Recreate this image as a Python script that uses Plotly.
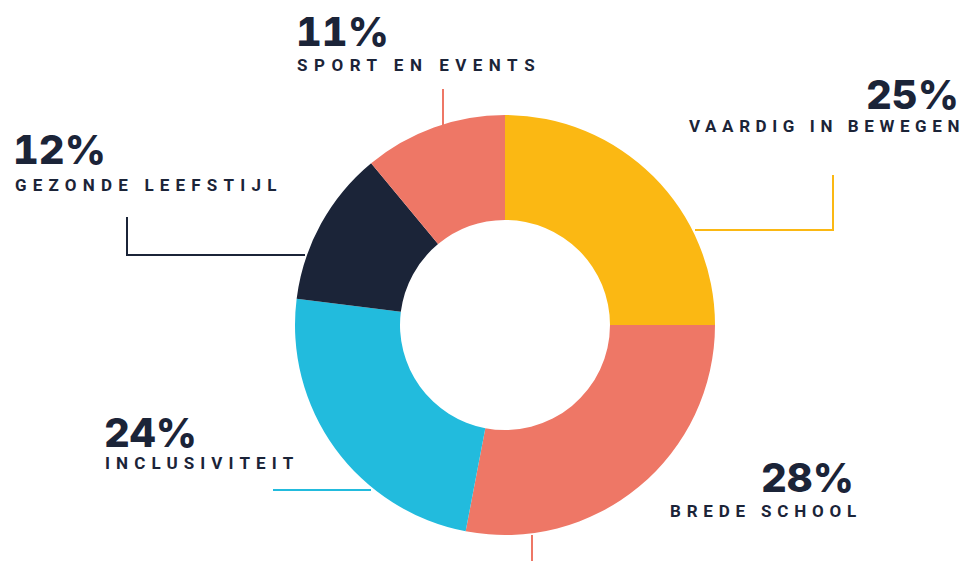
import plotly.graph_objects as go

categories = ["VAARDIG IN BEWEGEN", "BREDE SCHOOL", "INCLUSIVITEIT", "GEZONDE LEEFSTIJL", "SPORT EN EVENTS"]
values = [25, 28, 24, 12, 11]
colors = ["#FBB813", "#EE7766", "#22BBDD", "#1B2438", "#EE7766"]

W, H = 962, 561
NAVY = "#1B2438"


def px(x):
    return x / W


def py(y):
    return 1 - y / H


fig = go.Figure(go.Pie(
    labels=categories,
    values=values,
    marker=dict(colors=colors, line=dict(width=0)),
    hole=0.5,
    sort=False,
    direction="clockwise",
    rotation=0,
    textinfo="none",
    hoverinfo="label+percent",
    showlegend=False,
    domain=dict(x=[px(295), px(715)], y=[py(535), py(115)]),
))

# label layout: (percent anchor x, percent center y, label anchor x, label center y, xanchor, letter spacing)
label_pos = [
    (960, 94, 960, 126, "right", 5.6),
    (855, 477, 857, 511, "right", 5.8),
    (103, 432, 104, 463, "left", 6.1),
    (12, 150, 14, 185, "left", 6.2),
    (295, 31, 296, 65, "left", 6.5),
]

# leader lines (pixel polylines)
leaders = [
    [(695, 230), (833, 230), (833, 175)],
    [(532, 535), (532, 561)],
    [(273, 490), (371, 490)],
    [(305, 255), (127, 255), (127, 217)],
    [(443, 128), (443, 89)],
]

annotations = []
for cat, v, (pxx, pyy, lx, ly, anc, ls) in zip(categories, values, label_pos):
    annotations.append(dict(
        x=px(pxx), y=py(pyy), xref="paper", yref="paper",
        text=f'<span style="font-variant-numeric:tabular-nums">{v}%</span>',
        showarrow=False, xanchor=anc, yanchor="middle",
        font=dict(family="Inter", size=40, color=NAVY, weight=800),
        borderpad=0,
    ))
    annotations.append(dict(
        x=px(lx), y=py(ly), xref="paper", yref="paper",
        text=f'<span style="letter-spacing:{ls}px">{cat[:-1]}</span>{cat[-1]}',
        showarrow=False, xanchor=anc, yanchor="middle",
        font=dict(family="Roboto", size=17, color=NAVY, weight=700),
        borderpad=0,
    ))

shapes = []
for pts, col in zip(leaders, colors):
    path = "M " + " L ".join(f"{px(x)},{py(y)}" for x, y in pts)
    shapes.append(dict(type="path", path=path, xref="paper", yref="paper",
                       line=dict(color=col, width=2)))

fig.update_layout(
    width=W, height=H,
    margin=dict(l=0, r=0, t=0, b=0),
    paper_bgcolor="white", plot_bgcolor="white",
    annotations=annotations, shapes=shapes,
)

fig.write_html("out.html")
